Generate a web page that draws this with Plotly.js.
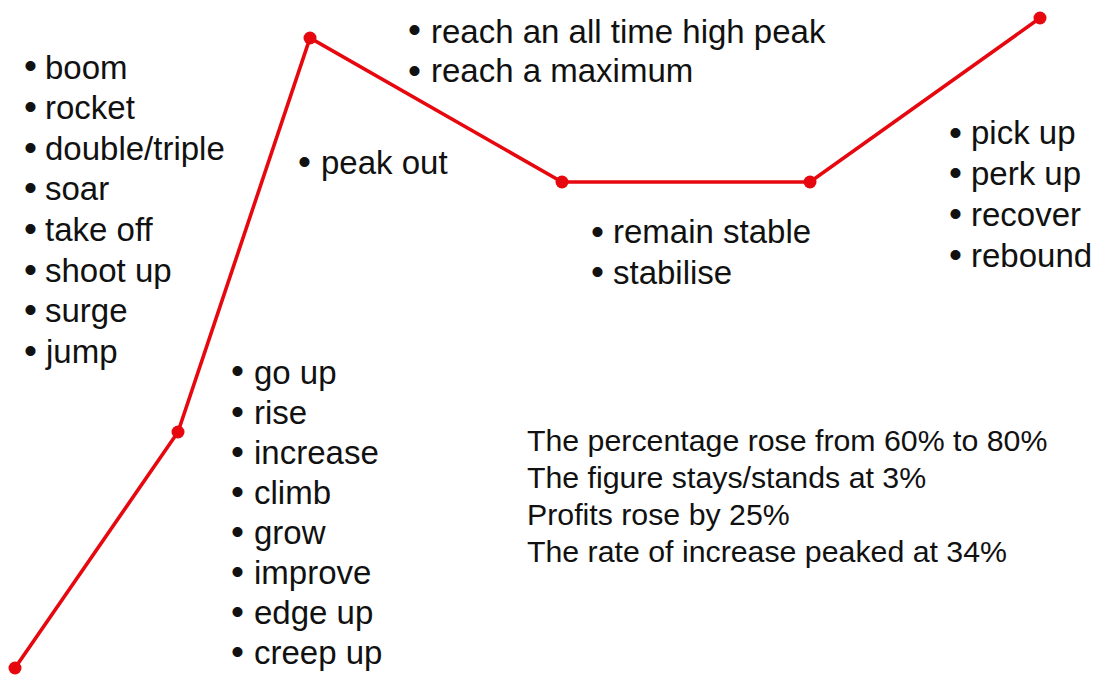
<!DOCTYPE html>
<html>
<head>
<meta charset="utf-8">
<script src="https://cdn.plot.ly/plotly-3.0.1.min.js"></script>
<style>html,body{margin:0;padding:0;background:#fff;}#chart{width:1097px;height:675px;}</style>
</head>
<body>
<div id="chart"></div>
<script>
// Trend line (schematic): time positions and levels
const timePoints = [15, 178, 310, 562, 810, 1040];
const levels = [7, 243, 637, 493, 493, 657];

// Word lists
const boomWords = ["boom", "rocket", "double/triple", "soar", "take off", "shoot up", "surge", "jump"];
const riseWords = ["go up", "rise", "increase", "climb", "grow", "improve", "edge up", "creep up"];
const peakOutWords = ["peak out"];
const peakWords = ["reach an all time high peak", "reach a maximum"];
const stableWords = ["remain stable", "stabilise"];
const recoverWords = ["pick up", "perk up", "recover", "rebound"];
const exampleSentences = [
  "The percentage rose from 60% to 80%",
  "The figure stays/stands at 3%",
  "Profits rose by 25%",
  "The rate of increase peaked at 34%"
];

const W = 1097, H = 675;
const FONT = "'Liberation Sans', Arial, sans-serif";
const INK = "#111";

// block placement: bullet centre x, text start x, first line centre y, line step, font size (px)
const blocks = [
  {lines: boomWords, bx: 30, tx: 46, y: 67, step: 40.6, size: 33},
  {lines: riseWords, bx: 237, tx: 255, y: 372, step: 40.1, size: 33},
  {lines: peakOutWords, bx: 304, tx: 322, y: 162, step: 40, size: 33},
  {lines: peakWords, bx: 414, tx: 432, y: 31, step: 40, size: 33},
  {lines: stableWords, bx: 597, tx: 614, y: 232, step: 40, size: 33},
  {lines: recoverWords, bx: 955, tx: 972, y: 133, step: 40.7, size: 33},
  {lines: exampleSentences, bx: null, tx: 528, y: 440, step: 37, size: 30.3}
];

const annotations = [];
blocks.forEach(b => {
  b.lines.forEach((t, i) => {
    const yc = b.y + i * b.step;
    if (b.bx !== null) {
      annotations.push({
        xref: "paper", yref: "paper",
        x: b.bx / W, y: 1 - (yc - 1) / H,
        xanchor: "center", yanchor: "middle",
        text: "\u2022", showarrow: false,
        font: {family: FONT, size: 37, color: INK}
      });
    }
    annotations.push({
      xref: "paper", yref: "paper",
      x: (b.tx - 3) / W, y: 1 - yc / H,
      xanchor: "left", yanchor: "middle",
      text: t, showarrow: false,
      font: {family: FONT, size: b.size, color: INK}
    });
  });
});

const RED = "rgb(230,8,14)";
const trace = {
  x: timePoints, y: levels,
  type: "scatter", mode: "lines+markers",
  line: {color: RED, width: 3.6},
  marker: {color: RED, size: 13},
  hoverinfo: "skip", cliponaxis: false
};

const layout = {
  width: W, height: H,
  margin: {l: 0, r: 0, t: 0, b: 0},
  paper_bgcolor: "#fff", plot_bgcolor: "#fff",
  showlegend: false,
  xaxis: {range: [0, W], visible: false, fixedrange: true},
  yaxis: {range: [0, H], visible: false, fixedrange: true},
  annotations: annotations
};

Plotly.newPlot("chart", [trace], layout, {displayModeBar: false, staticPlot: true});
</script>
</body>
</html>
